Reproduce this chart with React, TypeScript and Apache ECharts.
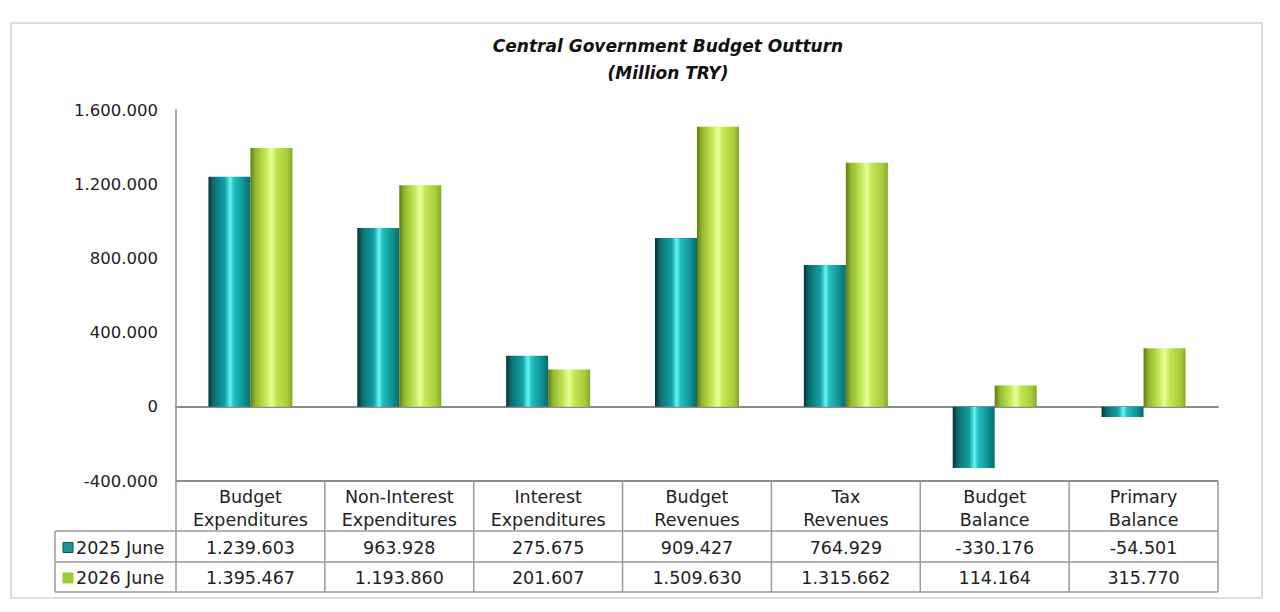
import React, { useEffect, useRef } from "react";
import * as echarts from "echarts";

const categories = [
  "Budget\nExpenditures",
  "Non-Interest\nExpenditures",
  "Interest\nExpenditures",
  "Budget\nRevenues",
  "Tax\nRevenues",
  "Budget\nBalance",
  "Primary\nBalance",
];
const seriesNames = ["2025 June", "2026 June"];
const june2025 = [1239603, 963928, 275675, 909427, 764929, -330176, -54501];
const june2026 = [1395467, 1193860, 201607, 1509630, 1315662, 114164, 315770];
const yTicks = { min: -400000, max: 1600000, interval: 400000 };

const FONT = "DejaVu Sans";
const TABLE_FS = 17.5;

function fmt(v: number): string {
  const neg = v < 0;
  const s = Math.abs(Math.round(v)).toString();
  const withDots = s.replace(/\B(?=(\d{3})+(?!\d))/g, ".");
  return (neg ? "-" : "") + withDots;
}

const tealGrad = new echarts.graphic.LinearGradient(0, 0, 1, 0, [
  { offset: 0, color: "#083234" },
  { offset: 0.12, color: "#0b6e70" },
  { offset: 0.4, color: "#14a3a5" },
  { offset: 0.52, color: "#6af5f5" },
  { offset: 0.6, color: "#22c0c2" },
  { offset: 0.85, color: "#0e9092" },
  { offset: 1, color: "#0a6a6c" },
]);
const greenGrad = new echarts.graphic.LinearGradient(0, 0, 1, 0, [
  { offset: 0, color: "#5f7a16" },
  { offset: 0.12, color: "#93b82c" },
  { offset: 0.38, color: "#c6ec5a" },
  { offset: 0.5, color: "#eaff9c" },
  { offset: 0.62, color: "#c2e652" },
  { offset: 0.88, color: "#a6cc38" },
  { offset: 1, color: "#86a826" },
]);
const legendColors = ["#1b9597", "#9acd32"];
const legendStrokes = ["#0b5658", "#9acd32"];

export default function App() {
  const ref = useRef<HTMLDivElement>(null);
  useEffect(() => {
    if (!ref.current) return;
    const chart = echarts.init(ref.current, undefined, { renderer: "svg" });
    const gridTop = 110;
    const gridBottomY = 481;
    const option: any = {
      animation: false,
      backgroundColor: "#ffffff",
      title: {
        text: "Central Government Budget Outturn\n(Million TRY)",
        left: 663,
        top: 27,
        textAlign: "center",
        textStyle: {
          fontFamily: FONT,
          fontSize: 17,
          fontWeight: "bold",
          fontStyle: "italic",
          color: "#111",
          lineHeight: 27,
        },
      },
      grid: { left: 176, right: 62, top: gridTop, bottom: 612 - gridBottomY },
      xAxis: {
        type: "category",
        data: categories,
        axisLine: { onZero: true, lineStyle: { color: "#8c8c8c", width: 2 } },
        axisTick: { show: false },
        axisLabel: { show: false },
      },
      yAxis: {
        type: "value",
        min: yTicks.min,
        max: yTicks.max,
        interval: yTicks.interval,
        splitLine: { show: false },
        axisLine: { show: true, lineStyle: { color: "#8c8c8c", width: 1.5 } },
        axisTick: { show: false },
        axisLabel: {
          formatter: (v: number) => fmt(v),
          fontFamily: FONT,
          fontSize: 16.5,
          color: "#222",
          margin: 18,
        },
      },
      series: [
        {
          name: seriesNames[0],
          type: "bar",
          data: june2025,
          barWidth: 42,
          barGap: "0%",
          itemStyle: { color: tealGrad },
        },
        {
          name: seriesNames[1],
          type: "bar",
          data: june2026,
          barWidth: 42,
          barGap: "0%",
          itemStyle: { color: greenGrad },
        },
      ],
    };
    chart.setOption(option);

    const centers = categories.map((_, i) => chart.convertToPixel({ xAxisIndex: 0 }, i) as number);
    const band = centers.length > 1 ? centers[1] - centers[0] : 148;
    const leftX = centers[0] - band / 2;
    const rightX = centers[centers.length - 1] + band / 2;
    const legendLeft = 55;
    const rowYs = [gridBottomY, 531, 562, 592];
    const lineColor = "#9a9a9a";
    const els: any[] = [];
    els.push({
      type: "rect",
      shape: { x: 11, y: 23, width: 1251, height: 575 },
      style: { fill: "none", stroke: "#d4d4d4", lineWidth: 1.5 },
      z: 0,
    });
    els.push({ type: "line", shape: { x1: leftX, y1: rowYs[0], x2: rightX, y2: rowYs[0] }, style: { stroke: "#8c8c8c", lineWidth: 2 } });
    for (let r = 1; r < rowYs.length; r++) {
      els.push({ type: "line", shape: { x1: legendLeft, y1: rowYs[r], x2: rightX, y2: rowYs[r] }, style: { stroke: lineColor, lineWidth: 1.5 } });
    }
    for (let i = 0; i <= categories.length; i++) {
      const x = leftX + i * band;
      els.push({ type: "line", shape: { x1: x, y1: rowYs[0], x2: x, y2: rowYs[3] }, style: { stroke: lineColor, lineWidth: 1.5 } });
    }
    els.push({ type: "line", shape: { x1: legendLeft, y1: rowYs[1], x2: legendLeft, y2: rowYs[3] }, style: { stroke: lineColor, lineWidth: 1.5 } });
    categories.forEach((c, i) => {
      els.push({
        type: "text",
        x: centers[i],
        y: (rowYs[0] + rowYs[1]) / 2 + 2,
        style: {
          text: c,
          fontFamily: FONT,
          fontSize: TABLE_FS,
          lineHeight: 23,
          fill: "#222",
          align: "center",
          verticalAlign: "middle",
        },
      });
    });
    const rows = [june2025, june2026];
    rows.forEach((vals, r) => {
      const cy = (rowYs[r + 1] + rowYs[r + 2]) / 2 + 1;
      vals.forEach((v, i) => {
        els.push({
          type: "text",
          x: centers[i],
          y: cy,
          style: {
            text: fmt(v),
            fontFamily: FONT,
            fontSize: TABLE_FS,
            fill: "#222",
            align: "center",
            verticalAlign: "middle",
          },
        });
      });
      els.push({
        type: "rect",
        shape: { x: 63, y: cy - 5, width: 10, height: 10 },
        style: { fill: legendColors[r], stroke: legendStrokes[r], lineWidth: 1 },
      });
      els.push({
        type: "text",
        x: 76,
        y: cy,
        style: {
          text: seriesNames[r],
          fontFamily: FONT,
          fontSize: TABLE_FS,
          fill: "#222",
          align: "left",
          verticalAlign: "middle",
        },
      });
    });
    chart.setOption({ graphic: { elements: els } });
    return () => chart.dispose();
  }, []);
  return (
    <div
      ref={ref}
      style={{ position: "absolute", left: 0, top: 0, width: 1280, height: 612 }}
    />
  );
}
